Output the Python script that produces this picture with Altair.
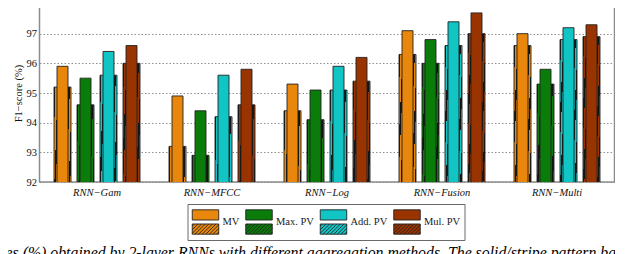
import math
import altair as alt

# ---------------- data ----------------
groups = ["RNN−Gam", "RNN−MFCC", "RNN−Log", "RNN−Fusion", "RNN−Multi"]
methods = ["MV", "Max. PV", "Add. PV", "Mul. PV"]
colors = ["#E8870C", "#0A7C0A", "#12C5C5", "#993300"]

# solid bars (per method, across groups)
solid_mv = [95.9, 94.9, 95.3, 97.1, 97.0]
solid_max = [95.5, 94.4, 95.1, 96.8, 95.8]
solid_add = [96.4, 95.6, 95.9, 97.4, 97.2]
solid_mul = [96.6, 95.8, 96.2, 97.7, 97.3]
# stripe-pattern bars
stripe_mv = [95.2, 93.2, 94.4, 96.3, 96.6]
stripe_max = [94.6, 92.9, 94.1, 96.0, 95.3]
stripe_add = [95.6, 94.2, 95.1, 96.6, 96.8]
stripe_mul = [96.0, 94.6, 95.4, 97.0, 96.9]

y_ticks = [92, 93, 94, 95, 96, 97, 98]
caption = ("res (%) obtained by 2-layer RNNs with different aggregation methods. "
           "The solid/stripe pattern bars of")

solid_vals = [solid_mv, solid_max, solid_add, solid_mul]
stripe_vals = [stripe_mv, stripe_max, stripe_add, stripe_mul]

# ---------------- layout / style ----------------
W, H = 575, 178
Y0, Y1 = 92, 98
STRIPE_W, SOLID_W = 17, 11
HATCH_P, HATCH_D = 3.6, 1.5
DARK = "#141414"
SERIF = "Liberation Serif"


def hatch_gradient(value, color):
    """Diagonal '/' hatch as a hard-stop linear gradient sized to the bar."""
    w = STRIPE_W
    h = max((value - Y0) * H / (Y1 - Y0), w + 1)
    k = w / (w * w + h * h)
    smax = w + h
    stops = []
    n = int(math.ceil(smax / HATCH_P)) + 1
    for i in range(n):
        a = i * HATCH_P
        b = a + HATCH_D
        for s, c in ((a, color), (a, DARK), (b, DARK), (b, color)):
            t = min(1.0, round(s * k, 5))
            stops.append({"offset": t, "color": c})
    return {"gradient": "linear", "x1": 0, "y1": 0, "x2": 1, "y2": h / w,
            "stops": stops}


rows = []
for gi, g in enumerate(groups):
    for mi, m in enumerate(methods):
        rows.append({
            "group": g, "method": m,
            "solid": solid_vals[mi][gi],
            "striped": stripe_vals[mi][gi],
            "grad": hatch_gradient(stripe_vals[mi][gi], colors[mi]),
        })


# legend swatch: solid box on top, hatched box below (unit coords)
def swatch_path():
    p = "M-1,-0.92H1V-0.15H-1Z M-1,0.15H1V0.92H-1Z"
    x0, x1, y0, y1 = -1.0, 1.0, 0.15, 0.92
    step = HATCH_P / 13.25
    c = x0 + y0 + step * 0.6
    while c < x1 + y1:
        xa = max(x0, c - y1)
        xb = min(x1, c - y0)
        if xb > xa:
            p += " M%.3f,%.3f L%.3f,%.3f" % (xa, c - xa, xb, c - xb)
        c += step
    return p


data = alt.Data(values=rows)

yaxis = alt.Axis(values=y_ticks, title="F1−score (%)", grid=True,
                 gridDash=[1.5, 2], gridColor="#8f8f8f", gridWidth=1,
                 domain=False, ticks=False, labelFont=SERIF, labelFontSize=10.5,
                 labelFontWeight="normal", labelColor="#111", labelPadding=3,
                 titleFont=SERIF, titleFontSize=10.5, titleFontWeight="normal",
                 titleColor="#111", titlePadding=3)
xaxis = alt.Axis(title=None, domain=False, ticks=False, grid=False, labelAngle=0,
                 labelFont=SERIF, labelFontStyle="italic", labelFontSize=10.5,
                 labelFontWeight="normal", labelColor="#111", labelPadding=5)

xenc = alt.X("group:N", sort=groups, scale=alt.Scale(paddingInner=0, paddingOuter=0),
             axis=xaxis)
xoff = alt.XOffset("method:N", sort=methods,
                   scale=alt.Scale(paddingInner=0, paddingOuter=0.5))
yscale = alt.Scale(domain=[Y0, Y1], zero=False, nice=False)

striped = alt.Chart(data).mark_bar(width=STRIPE_W, stroke="#222", strokeWidth=0.9,
                                   clip=True).encode(
    x=xenc, xOffset=xoff,
    y=alt.Y("striped:Q", scale=yscale, axis=yaxis),
    fill=alt.Fill("grad:N", scale=None),
)

legend = alt.Legend(title=None, orient="none", legendX=148, legendY=200,
                    direction="horizontal", columns=4, symbolType=swatch_path(),
                    symbolSize=702, symbolStrokeColor="#222", symbolStrokeWidth=0.9,
                    symbolOpacity=1, labelFont=SERIF, labelFontSize=10.5,
                    labelFontWeight="normal", labelColor="#222", labelOffset=3,
                    columnPadding=3.5, padding=4, strokeColor="#6a6a6a",
                    fillColor="white")

solid = alt.Chart(data).mark_bar(width=SOLID_W, stroke="#222", strokeWidth=0.9,
                                 clip=True, opacity=1).encode(
    x=xenc, xOffset=xoff,
    y=alt.Y("solid:Q", scale=yscale, axis=yaxis),
    color=alt.Color("method:N", sort=methods,
                    scale=alt.Scale(domain=methods, range=colors), legend=legend),
)

cap = alt.Chart(alt.Data(values=[{"t": caption}])).mark_text(
    align="left", baseline="alphabetic", font=SERIF, fontStyle="italic",
    fontWeight="normal", fontSize=15.8, color="black").encode(
    text="t:N", x=alt.value(-39.5), y=alt.value(254))

chart = alt.layer(striped, solid, cap).properties(
    width=W, height=H,
    autosize=alt.AutoSizeParams(type="none"),
    padding={"left": 31.5, "top": -4, "right": 0, "bottom": 84},
).configure(font=SERIF).configure_view(stroke="#8c8c8c", strokeWidth=1.5)

chart.save("out.html", embed_options={"renderer": "svg", "actions": False})
